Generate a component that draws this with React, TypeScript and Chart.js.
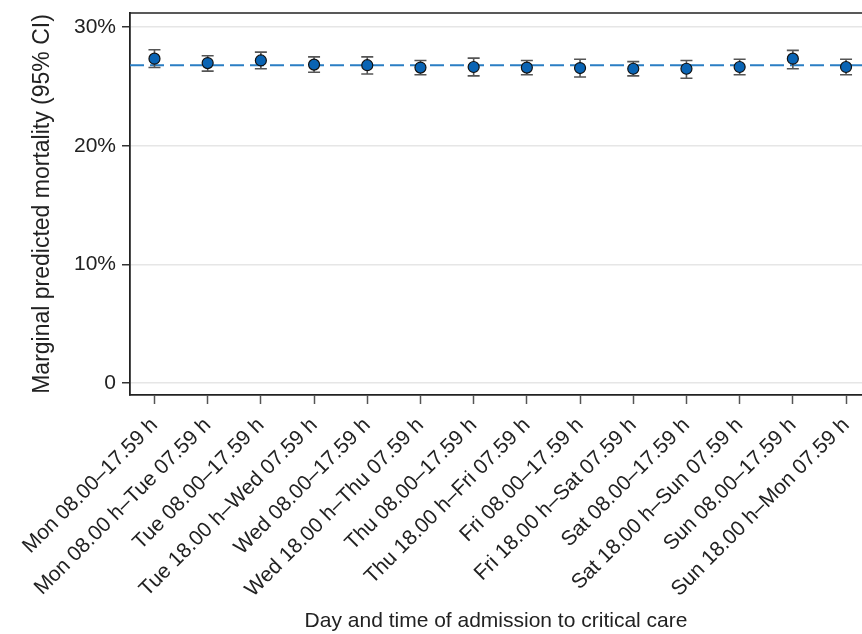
import React, { useEffect, useRef } from "react";
import { Chart, registerables } from "chart.js";

Chart.register(...registerables);

const categories = [
  "Mon 08.00–17.59 h",
  "Mon 08.00 h–Tue 07.59 h",
  "Tue 08.00–17.59 h",
  "Tue 18.00 h–Wed 07.59 h",
  "Wed 08.00–17.59 h",
  "Wed 18.00 h–Thu 07.59 h",
  "Thu 08.00–17.59 h",
  "Thu 18.00 h–Fri 07.59 h",
  "Fri 08.00–17.59 h",
  "Fri 18.00 h–Sat 07.59 h",
  "Sat 08.00–17.59 h",
  "Sat 18.00 h–Sun 07.59 h",
  "Sun 08.00–17.59 h",
  "Sun 18.00 h–Mon 07.59 h",
];

const means = [27.35, 26.98, 27.2, 26.85, 26.8, 26.6, 26.65, 26.6, 26.56, 26.5, 26.5, 26.65, 27.35, 26.65];
const lower = [26.6, 26.3, 26.5, 26.2, 26.06, 26.0, 25.9, 26.0, 25.8, 25.9, 25.7, 26.0, 26.5, 26.0];
const upper = [28.1, 27.6, 27.9, 27.5, 27.5, 27.2, 27.4, 27.2, 27.3, 27.1, 27.2, 27.3, 28.05, 27.3];
const overallMean = 26.8;

const yTickValues = [0, 10, 20, 30];
const yMin = -1.0;
const yMax = 31.2;
const xMin = -0.46;
const xMax = 13.3;

const FONT = "'Liberation Sans', Arial, Helvetica, sans-serif";

const overlayPlugin = {
  id: "overlay",
  beforeDatasetsDraw(chart: any) {
    const { ctx, chartArea, scales } = chart;
    const x = scales.x;
    const y = scales.y;
    ctx.save();
    ctx.beginPath();
    ctx.rect(chartArea.left, chartArea.top, chartArea.right - chartArea.left, chartArea.bottom - chartArea.top);
    ctx.clip();
    const yy = y.getPixelForValue(overallMean);
    ctx.setLineDash([14, 6]);
    ctx.strokeStyle = "#2a7ec4";
    ctx.lineWidth = 2;
    ctx.beginPath();
    ctx.moveTo(chartArea.left, yy);
    ctx.lineTo(chartArea.right, yy);
    ctx.stroke();
    ctx.setLineDash([]);
    ctx.strokeStyle = "#555555";
    ctx.lineWidth = 1.6;
    means.forEach((_, i) => {
      const px = x.getPixelForValue(i);
      const pl = y.getPixelForValue(lower[i]);
      const pu = y.getPixelForValue(upper[i]);
      ctx.beginPath();
      ctx.moveTo(px, pl);
      ctx.lineTo(px, pu);
      ctx.moveTo(px - 6, pl);
      ctx.lineTo(px + 6, pl);
      ctx.moveTo(px - 6, pu);
      ctx.lineTo(px + 6, pu);
      ctx.stroke();
    });
    ctx.restore();
  },
  afterDraw(chart: any) {
    const { ctx, chartArea } = chart;
    ctx.save();
    ctx.strokeStyle = "#222222";
    ctx.lineWidth = 1.6;
    ctx.beginPath();
    ctx.moveTo(chartArea.left - 1, chartArea.top);
    ctx.lineTo(chartArea.right, chartArea.top);
    ctx.stroke();
    ctx.restore();
  },
};

export default function App() {
  const ref = useRef<HTMLCanvasElement | null>(null);

  useEffect(() => {
    if (!ref.current) return;
    const chart: any = new Chart(ref.current, {
      type: "scatter",
      data: {
        datasets: [
          {
            data: means.map((m, i) => ({ x: i, y: m })),
            pointRadius: 5.5,
            pointHoverRadius: 5.5,
            backgroundColor: "#0a64b4",
            borderColor: "#111111",
            borderWidth: 1.2,
            showLine: false,
            clip: false,
          },
        ],
      },
      options: {
        responsive: false,
        animation: false,
        devicePixelRatio: 1,
        layout: { autoPadding: false, padding: { top: 13, left: 0, right: 0, bottom: 0 } },
        plugins: {
          legend: { display: false },
          tooltip: { enabled: false },
        },
        scales: {
          x: {
            type: "linear",
            min: xMin,
            max: xMax,
            afterBuildTicks: (scale: any) => {
              scale.ticks = categories.map((_, i) => ({ value: i }));
            },
            afterFit: (scale: any) => {
              scale.height = 239;
              scale.paddingLeft = 0;
              scale.paddingRight = 0;
            },
            ticks: {
              autoSkip: false,
              minRotation: 45,
              maxRotation: 45,
              padding: 9,
              color: "#222222",
              font: { family: FONT, size: 21 },
              callback: (_v: any, index: number) => categories[index],
            },
            grid: {
              drawOnChartArea: false,
              drawTicks: true,
              tickLength: 9,
              tickColor: "#555555",
              tickWidth: 1.5,
            },
            border: { display: true, color: "#222222", width: 1.8 },
            title: {
              display: true,
              text: "Day and time of admission to critical care",
              color: "#222222",
              font: { family: FONT, size: 21 },
              padding: { top: 0, bottom: 0 },
            },
          },
          y: {
            type: "linear",
            min: yMin,
            max: yMax,
            afterBuildTicks: (scale: any) => {
              scale.ticks = yTickValues.map((v) => ({ value: v }));
            },
            afterFit: (scale: any) => {
              scale.width = 130;
              scale.paddingTop = 0;
              scale.paddingBottom = 0;
            },
            ticks: {
              padding: 6,
              color: "#222222",
              font: { family: FONT, size: 21 },
              callback: (v: any) => (v === 0 ? "0" : `${v}%`),
            },
            grid: {
              color: "#e6e6e6",
              lineWidth: 1.5,
              drawTicks: true,
              tickLength: 8,
              tickColor: "#333333",
              tickWidth: 1.5,
            },
            border: { display: true, color: "#222222", width: 1.8 },
            title: {
              display: true,
              text: "Marginal predicted mortality (95% CI)",
              color: "#222222",
              font: { family: FONT, size: 23 },
              padding: { top: 29, bottom: 0 },
            },
          },
        },
      },
      plugins: [overlayPlugin],
    });

    return () => chart.destroy();
  }, []);

  return (
    <div style={{ position: "fixed", left: 0, top: 0, width: 862, height: 634, background: "#ffffff" }}>
      <canvas ref={ref} width={862} height={634} style={{ width: 862, height: 634 }} />
    </div>
  );
}
